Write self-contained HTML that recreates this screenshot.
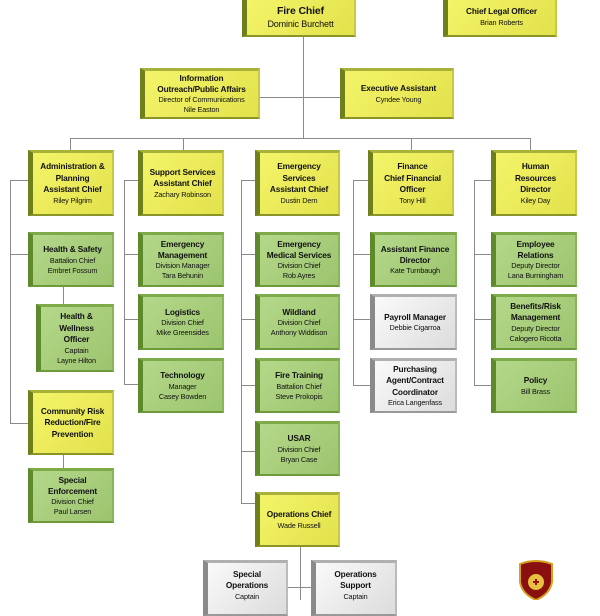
<!DOCTYPE html>
<html><head><meta charset="utf-8"><style>
body{margin:0;width:600px;height:600px;background:#fff;position:relative;overflow:hidden;font-family:"Liberation Sans",sans-serif}
.b{position:absolute;box-sizing:border-box;display:flex;flex-direction:column;justify-content:center;align-items:center;text-align:center;color:#111;line-height:1.38;font-size:7.3px;letter-spacing:-0.15px}
.b b{font-size:8.3px}
.y{background:linear-gradient(135deg,#f4f46a,#e2e24c);border-left:5px solid #6f7f1c;border-top:3px solid #a8b23a;border-bottom:2px solid #8a9428;border-right:2px solid #c8c84a}
.g{background:linear-gradient(135deg,#b4d88a,#9cc46e);border-left:5px solid #5e8a2c;border-top:3px solid #7eaa4a;border-bottom:2px solid #6e9a3c;border-right:2px solid #8ab65a}
.w{background:linear-gradient(135deg,#fafafa,#dcdcdc);border-left:5px solid #8a8a8a;border-top:3px solid #b0b0b0;border-bottom:2px solid #999;border-right:2px solid #bbb}
.l{position:absolute;background:#8a8a8a}
</style></head><body>
<!-- lines -->
<div class="l" style="left:303px;top:37px;width:1px;height:101px"></div>
<div class="l" style="left:260px;top:97px;width:80px;height:1px"></div>
<div class="l" style="left:70px;top:138px;width:461px;height:1px"></div>
<div class="l" style="left:70px;top:138px;width:1px;height:12px"></div>
<div class="l" style="left:183px;top:138px;width:1px;height:12px"></div>
<div class="l" style="left:411px;top:138px;width:1px;height:12px"></div>
<div class="l" style="left:530px;top:138px;width:1px;height:12px"></div>
<!-- spines -->
<div class="l" style="left:10px;top:180px;width:1px;height:244px"></div>
<div class="l" style="left:10px;top:180px;width:18px;height:1px"></div>
<div class="l" style="left:10px;top:254px;width:18px;height:1px"></div>
<div class="l" style="left:10px;top:423px;width:18px;height:1px"></div>
<div class="l" style="left:63px;top:287px;width:1px;height:17px"></div>
<div class="l" style="left:63px;top:455px;width:1px;height:13px"></div>
<div class="l" style="left:124px;top:180px;width:1px;height:205px"></div>
<div class="l" style="left:124px;top:180px;width:14px;height:1px"></div>
<div class="l" style="left:124px;top:254px;width:14px;height:1px"></div>
<div class="l" style="left:124px;top:319px;width:14px;height:1px"></div>
<div class="l" style="left:124px;top:384px;width:14px;height:1px"></div>
<div class="l" style="left:241px;top:180px;width:1px;height:324px"></div>
<div class="l" style="left:241px;top:180px;width:14px;height:1px"></div>
<div class="l" style="left:241px;top:254px;width:14px;height:1px"></div>
<div class="l" style="left:241px;top:319px;width:14px;height:1px"></div>
<div class="l" style="left:241px;top:385px;width:14px;height:1px"></div>
<div class="l" style="left:241px;top:451px;width:14px;height:1px"></div>
<div class="l" style="left:241px;top:503px;width:14px;height:1px"></div>
<div class="l" style="left:353px;top:180px;width:1px;height:205px"></div>
<div class="l" style="left:353px;top:180px;width:15px;height:1px"></div>
<div class="l" style="left:353px;top:254px;width:17px;height:1px"></div>
<div class="l" style="left:353px;top:319px;width:17px;height:1px"></div>
<div class="l" style="left:353px;top:385px;width:17px;height:1px"></div>
<div class="l" style="left:474px;top:180px;width:1px;height:205px"></div>
<div class="l" style="left:474px;top:180px;width:17px;height:1px"></div>
<div class="l" style="left:474px;top:254px;width:17px;height:1px"></div>
<div class="l" style="left:474px;top:319px;width:17px;height:1px"></div>
<div class="l" style="left:474px;top:385px;width:17px;height:1px"></div>
<div class="l" style="left:300px;top:547px;width:1px;height:53px"></div>
<div class="l" style="left:288px;top:587px;width:23px;height:1px"></div>

<!-- top -->
<div class="b y" style="left:242px;top:-4px;width:114px;height:41px"><b style="font-size:10.5px">Fire Chief</b><span style="font-size:9px">Dominic Burchett</span></div>
<div class="b y" style="left:443px;top:-4px;width:114px;height:41px"><b>Chief Legal Officer</b>Brian Roberts</div>
<div class="b y" style="left:140px;top:68px;width:120px;height:51px"><b>Information<br>Outreach/Public Affairs</b>Director of Communications<br>Nile Easton</div>
<div class="b y" style="left:340px;top:68px;width:114px;height:51px"><b>Executive Assistant</b>Cyndee Young</div>
<!-- row -->
<div class="b y" style="left:28px;top:150px;width:86px;height:66px"><b>Administration &amp;<br>Planning<br>Assistant Chief</b>Riley Pilgrim</div>
<div class="b y" style="left:138px;top:150px;width:86px;height:66px"><b>Support Services<br>Assistant Chief</b>Zachary Robinson</div>
<div class="b y" style="left:255px;top:150px;width:85px;height:66px"><b>Emergency<br>Services<br>Assistant Chief</b>Dustin Dern</div>
<div class="b y" style="left:368px;top:150px;width:86px;height:66px"><b>Finance<br>Chief Financial<br>Officer</b>Tony Hill</div>
<div class="b y" style="left:491px;top:150px;width:86px;height:66px"><b>Human<br>Resources<br>Director</b>Kiley Day</div>
<!-- admin -->
<div class="b g" style="left:28px;top:232px;width:86px;height:55px"><b>Health &amp; Safety</b>Battalion Chief<br>Embret Fossum</div>
<div class="b g" style="left:36px;top:304px;width:78px;height:68px"><b>Health &amp;<br>Wellness<br>Officer</b>Captain<br>Layne Hilton</div>
<div class="b y" style="left:28px;top:390px;width:86px;height:65px"><b>Community Risk<br>Reduction/Fire<br>Prevention</b></div>
<div class="b g" style="left:28px;top:468px;width:86px;height:55px"><b>Special<br>Enforcement</b>Division Chief<br>Paul Larsen</div>
<!-- support -->
<div class="b g" style="left:138px;top:232px;width:86px;height:55px"><b>Emergency<br>Management</b>Division Manager<br>Tara Behunin</div>
<div class="b g" style="left:138px;top:294px;width:86px;height:56px"><b>Logistics</b>Division Chief<br>Mike Greensides</div>
<div class="b g" style="left:138px;top:358px;width:86px;height:55px"><b>Technology</b>Manager<br>Casey Bowden</div>
<!-- emergency -->
<div class="b g" style="left:255px;top:232px;width:85px;height:55px"><b>Emergency<br>Medical Services</b>Division Chief<br>Rob Ayres</div>
<div class="b g" style="left:255px;top:294px;width:85px;height:56px"><b>Wildland</b>Division Chief<br>Anthony Widdison</div>
<div class="b g" style="left:255px;top:358px;width:85px;height:55px"><b>Fire Training</b>Battalion Chief<br>Steve Prokopis</div>
<div class="b g" style="left:255px;top:421px;width:85px;height:55px"><b>USAR</b>Division Chief<br>Bryan Case</div>
<div class="b y" style="left:255px;top:492px;width:85px;height:55px"><b>Operations Chief</b>Wade Russell</div>
<!-- finance -->
<div class="b g" style="left:370px;top:232px;width:87px;height:55px"><b>Assistant Finance<br>Director</b>Kate Turnbaugh</div>
<div class="b w" style="left:370px;top:294px;width:87px;height:56px"><b>Payroll Manager</b>Debbie Cigarroa</div>
<div class="b w" style="left:370px;top:358px;width:87px;height:55px"><b>Purchasing<br>Agent/Contract<br>Coordinator</b>Erica Langenfass</div>
<!-- HR -->
<div class="b g" style="left:491px;top:232px;width:86px;height:55px"><b>Employee<br>Relations</b>Deputy Director<br>Lana Burningham</div>
<div class="b g" style="left:491px;top:294px;width:86px;height:56px"><b>Benefits/Risk<br>Management</b>Deputy Director<br>Calogero Ricotta</div>
<div class="b g" style="left:491px;top:358px;width:86px;height:55px"><b>Policy</b>Bill Brass</div>
<!-- bottom -->
<div class="b w" style="left:203px;top:560px;width:85px;height:56px;justify-content:flex-start;padding-top:6px"><b>Special<br>Operations</b>Captain</div>
<div class="b w" style="left:311px;top:560px;width:86px;height:56px;justify-content:flex-start;padding-top:6px"><b>Operations<br>Support</b>Captain</div>
<!-- logo -->
<svg style="position:absolute;left:516px;top:560px" width="40" height="40" viewBox="0 0 40 40">
<path d="M4 4 Q20 -2 36 4 L36 22 Q34 34 20 40 Q6 34 4 22 Z" fill="#8a1010" stroke="#d4a020" stroke-width="2"/>
<circle cx="20" cy="22" r="8" fill="#e8c040"/><path d="M17 22h6M20 19v6" stroke="#a01010" stroke-width="2"/>
</svg>
</body></html>
